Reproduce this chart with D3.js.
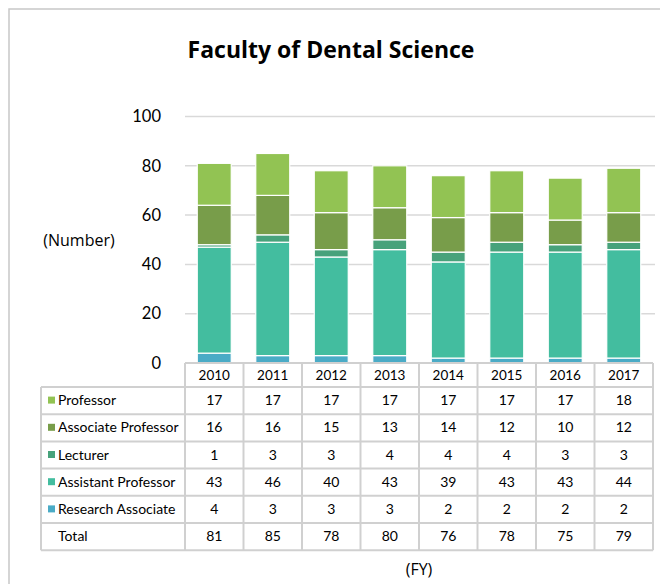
<!DOCTYPE html>
<html>
<head>
<meta charset="utf-8">
<script src="https://cdn.jsdelivr.net/npm/d3@7"></script>
<style>
  body { margin: 0; background: #fff; }
  text { font-family: Lato, "Open Sans", sans-serif; fill: #000; }
</style>
</head>
<body>
<div class="graph"></div>
<script>
// data
var years = ["2010", "2011", "2012", "2013", "2014", "2015", "2016", "2017"];
var categories = ["Professor", "Associate Professor", "Lecturer", "Assistant Professor", "Research Associate"];
var professor = [17, 17, 17, 17, 17, 17, 17, 18];
var associate = [16, 16, 15, 13, 14, 12, 10, 12];
var lecturer = [1, 3, 3, 4, 4, 4, 3, 3];
var assistant = [43, 46, 40, 43, 39, 43, 43, 44];
var research = [4, 3, 3, 3, 2, 2, 2, 2];
var totals = [81, 85, 78, 80, 76, 78, 75, 79];
var yTicks = [0, 20, 40, 60, 80, 100];
var colors = ["#92c353", "#789d4a", "#47a27b", "#43bd9f", "#4aabc6"];

var svgWidth = 660;
var svgHeight = 584;
var plotLeft = 185;
var plotRight = 653;
var plotTop = 116.5;
var plotBottom = 363;
var rowH = 27.2;
var headH = 24;
var labelLeft = 41;

var svg = d3.select("div.graph")
  .append("svg")
  .attr("width", svgWidth)
  .attr("height", svgHeight);

// outer frame (runs off the right and bottom)
svg.append("rect")
  .attr("x", 9).attr("y", 9)
  .attr("width", 700).attr("height", 700)
  .attr("fill", "none")
  .attr("stroke", "#c8c8c8")
  .attr("stroke-width", 1.5);

svg.append("text")
  .attr("x", 331).attr("y", 58)
  .attr("text-anchor", "middle")
  .style("font-family", "'Open Sans', sans-serif")
  .style("font-weight", "bold")
  .style("font-size", "23px")
  .text("Faculty of Dental Science");

var x = d3.scaleBand().domain(years).range([plotLeft, plotRight]).paddingInner(0).paddingOuter(0);
var y = d3.scaleLinear().domain([0, 100]).range([plotBottom, plotTop]);

// gridlines
svg.append("g").selectAll("line")
  .data(yTicks.slice(1))
  .enter().append("line")
  .attr("x1", plotLeft).attr("x2", plotRight + 2)
  .attr("y1", function(d) { return y(d); })
  .attr("y2", function(d) { return y(d); })
  .attr("stroke", "#d9d9d9")
  .attr("stroke-width", 1.5);

// y axis labels
var yAxis = d3.axisLeft(y).tickValues(yTicks).tickSize(0).tickPadding(24);
var gy = svg.append("g").attr("transform", "translate(" + plotLeft + ",0)").call(yAxis);
gy.select(".domain").remove();
gy.selectAll("text").style("font-size", "16.5px").style("font-family", "Lato, 'Open Sans', sans-serif");

svg.append("text")
  .attr("x", 79).attr("y", 246)
  .attr("text-anchor", "middle")
  .style("font-family", "'Open Sans', sans-serif")
  .style("font-size", "16px")
  .text("(Number)");

// stacked bars
var table = years.map(function(yr, i) {
  return { year: yr, r: research[i], a: assistant[i], l: lecturer[i], ap: associate[i], p: professor[i] };
});
var keys = ["r", "a", "l", "ap", "p"];
var keyColor = { r: colors[4], a: colors[3], l: colors[2], ap: colors[1], p: colors[0] };
var stack = d3.stack().keys(keys)(table);
var barW = 34;

svg.append("g").selectAll("g")
  .data(stack)
  .enter().append("g")
  .attr("fill", function(d) { return keyColor[d.key]; })
  .selectAll("rect")
  .data(function(d) { return d; })
  .enter().append("rect")
  .attr("x", function(d) { return x(d.data.year) + x.bandwidth() / 2 - barW / 2; })
  .attr("width", barW)
  .attr("y", function(d) { return y(d[1]); })
  .attr("height", function(d) { return y(d[0]) - y(d[1]); })
  .attr("stroke", "#fff")
  .attr("stroke-width", 1.2);

// data table
var tableTop = plotBottom;
var rows = [
  { name: categories[0], vals: professor, color: colors[0] },
  { name: categories[1], vals: associate, color: colors[1] },
  { name: categories[2], vals: lecturer, color: colors[2] },
  { name: categories[3], vals: assistant, color: colors[3] },
  { name: categories[4], vals: research, color: colors[4] },
  { name: "Total", vals: totals, color: null }
];
var bodyTop = tableTop + headH;
var bodyBottom = bodyTop + rows.length * rowH;
var gridCol = "#d0d0d0";
var gt = svg.append("g");

// horizontal lines
gt.append("line").attr("x1", plotLeft).attr("x2", plotRight)
  .attr("y1", tableTop).attr("y2", tableTop).attr("stroke", gridCol).attr("stroke-width", 2);
d3.range(rows.length + 1).forEach(function(i) {
  gt.append("line").attr("x1", labelLeft).attr("x2", plotRight)
    .attr("y1", bodyTop + i * rowH).attr("y2", bodyTop + i * rowH)
    .attr("stroke", gridCol).attr("stroke-width", 2);
});
// vertical lines
gt.append("line").attr("x1", labelLeft).attr("x2", labelLeft)
  .attr("y1", bodyTop).attr("y2", bodyBottom).attr("stroke", gridCol).attr("stroke-width", 2);
years.concat(["end"]).forEach(function(yr, i) {
  var xx = i < years.length ? x(yr) : plotRight;
  gt.append("line").attr("x1", xx).attr("x2", xx)
    .attr("y1", tableTop).attr("y2", bodyBottom).attr("stroke", gridCol).attr("stroke-width", 2);
});

// header years
gt.selectAll("text.yr")
  .data(years).enter().append("text")
  .attr("class", "yr")
  .attr("x", function(d) { return x(d) + x.bandwidth() / 2; })
  .attr("y", tableTop + headH / 2 + 5)
  .attr("text-anchor", "middle")
  .style("font-size", "13.5px")
  .text(function(d) { return d; });

rows.forEach(function(row, r) {
  var cy = bodyTop + r * rowH + rowH / 2;
  if (row.color) {
    gt.append("rect").attr("x", 48).attr("y", cy - 4).attr("width", 7).attr("height", 7).attr("fill", row.color);
  }
  gt.append("text").attr("x", 58).attr("y", cy + 4.5)
    .style("font-size", "14px").text(row.name);
  row.vals.forEach(function(v, i) {
    gt.append("text")
      .attr("x", x(years[i]) + x.bandwidth() / 2)
      .attr("y", cy + 4.5)
      .attr("text-anchor", "middle")
      .style("font-size", "14px")
      .text(v);
  });
});

svg.append("text")
  .attr("x", 419).attr("y", 575)
  .attr("text-anchor", "middle")
  .style("font-family", "'Open Sans', sans-serif")
  .style("font-size", "16px")
  .text("(FY)");
</script>
</body>
</html>
